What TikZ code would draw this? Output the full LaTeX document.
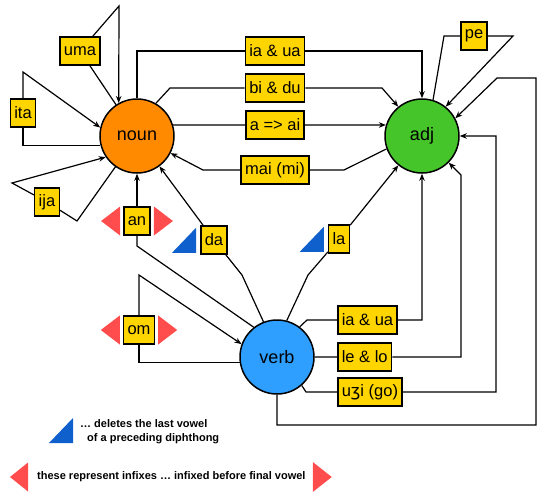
\documentclass[tikz,border=0pt]{standalone}
\usepackage{fontspec}
\setmainfont{Liberation Sans}
\newfontfamily\ipafont{DejaVu Sans}
\usetikzlibrary{arrows.meta}
\definecolor{nounorange}{HTML}{FF8A00}
\definecolor{adjgreen}{HTML}{45C52A}
\definecolor{verbblue}{HTML}{2E9FFF}
\definecolor{affixyellow}{HTML}{FFD500}
\definecolor{infixred}{HTML}{FF4D4D}
\definecolor{delblue}{HTML}{0F5FCC}

\begin{document}
\begin{tikzpicture}[x=1pt,y=-1pt,
    word/.style={circle,draw,line width=1.5pt,minimum size=74pt,inner sep=0pt,
      font=\fontsize{18}{20}\selectfont},
    affix/.style={draw,fill=affixyellow,line width=1.5pt,minimum height=28pt,
      inner xsep=4pt,inner ysep=0pt,font=\fontsize{16.5}{18}\selectfont},
    link/.style={line width=1.2pt},
    arr/.style={link,-{Stealth[length=7pt,width=5.5pt]}},
    legend/.style={font=\bfseries\fontsize{11}{14}\selectfont,align=left,
      inner sep=0pt,anchor=west}]
    \useasboundingbox (0,0) rectangle (544,496);

    % word classes
    \node[word,fill=nounorange] (noun) at (137,136) {noun};
    \node[word,fill=adjgreen] (adj) at (422,136) {adj};
    \node[word,fill=verbblue] (verb) at (277,357) {verb};

    % affixes
    \node[affix] (uma) at (80,51) {uma};
    \node[affix] (ita) at (23,113) {ita};
    \node[affix] (ija) at (47,202) {ija};
    \node[affix] (an) at (137,221) {an};
    \node[affix] (da) at (214,240) {da};
    \node[affix] (la) at (339,239) {la};
    \node[affix] (om) at (139,330) {om};
    \node[affix] (iaua1) at (275,51) {ia \& ua};
    \node[affix] (bidu) at (275,88) {bi \& du};
    \node[affix] (aai) at (275,125) {a => ai};
    \node[affix] (maimi) at (275,170) {mai (mi)};
    \node[affix] (pe) at (474,36) {pe};
    \node[affix,anchor=west] (iaua2) at (337,320) {ia \& ua};
    \node[affix,anchor=west] (lelo) at (337,357) {le \& lo};
    \node[affix,anchor=west] (ugo) at (337,392) {u{\ipafont ʒ}i (go)};

    % noun -> noun
    \draw[link] (noun) -- (uma);
    \draw[arr] (uma) -- (119,6) -- (noun.119);
    \draw[link] (noun.194) -| (ita);
    \draw[arr] (ita) -- (23,72) -- (noun.167);
    \draw[link] (noun.235) -- (77,221) -- (ija);
    \draw[arr] (ija) -- (12,183) -- (noun.214);

    % verb -> noun
    \draw[link] (verb.128) -- (137,246) -- (an);
    \draw[arr] (an) -- (noun);
    \draw[link] (verb.111) -- (242,275) -- (da);
    \draw[arr] (da) -- (noun);

    % verb -> verb
    \draw[link] (verb.188) -| (om);
    \draw[arr] (om) -- (139,275) -- (verb.160);

    % noun -> adj and back
    \draw[arr] (noun.north) |- (iaua1) -| (adj.north);
    \draw[arr] (noun.60) -- (170,88) -- (bidu) -- (382,88) -- (adj.129);
    \draw[arr] (noun.17) -- (aai) -- (adj.163);
    \draw[arr] (adj.200) -- (344,170) -- (maimi) -- (203,170) -- (noun.333);

    % adj -> adj
    \draw[link] (adj.73) -- (444,36) -- (pe);
    \draw[arr] (pe) -- (513,36) -- (adj.51);

    % verb -> adj
    \draw[arr] (verb.south) |- (536,425) -- (536,78) -- (497,78) -- (adj.28);
    \draw[arr] (verb.311) -- (306,392) -- (ugo) -- (496,392) -- (496,136) -- (adj.east);
    \draw[arr] (verb.east) -- (lelo) -- (461,357) -- (461,175) -- (adj.315);
    \draw[arr] (verb.53) -- (307,320) -- (iaua2) -| (adj.south);
    \draw[link] (verb.75) -- (308,275) -- (la);
    \draw[arr] (la) -- (adj);

    % infix marks
    \fill[infixred] ([xshift=-3pt]an.west) ++(0,-14.5) -- ++(0,29) -- ++(-19,-14.5) -- cycle;
    \fill[infixred] ([xshift=3pt]an.east) ++(0,-14.5) -- ++(0,29) -- ++(19,-14.5) -- cycle;
    \fill[infixred] ([xshift=-3pt]om.west) ++(0,-14.5) -- ++(0,29) -- ++(-19,-14.5) -- cycle;
    \fill[infixred] ([xshift=3pt]om.east) ++(0,-14.5) -- ++(0,29) -- ++(19,-14.5) -- cycle;

    % deletion marks
    \fill[delblue] ([xshift=-4pt]da.south west) ++(0,-2) -- ++(0,-25) -- ++(-24,25) -- cycle;
    \fill[delblue] ([xshift=-4pt]la.south west) ++(0,-2) -- ++(0,-25) -- ++(-24,25) -- cycle;

    % legend
    \node[legend] (legdel) at (80,432) {\dots{} deletes the last vowel\\\hspace{7pt}of a preceding diphthong};
    \fill[delblue] ([xshift=-7pt]legdel.west) ++(0,11) -- ++(0,-25) -- ++(-24,25) -- cycle;
    \node[legend] (leginfix) at (37,477) {these represent infixes \dots{} infixed before final vowel};
    \fill[infixred] ([xshift=-9pt]leginfix.west) ++(0,-14.5) -- ++(0,29) -- ++(-18,-14.5) -- cycle;
    \fill[infixred] ([xshift=7pt]leginfix.east) ++(0,-15) -- ++(0,30) -- ++(19,-15) -- cycle;
\end{tikzpicture}
\end{document}
